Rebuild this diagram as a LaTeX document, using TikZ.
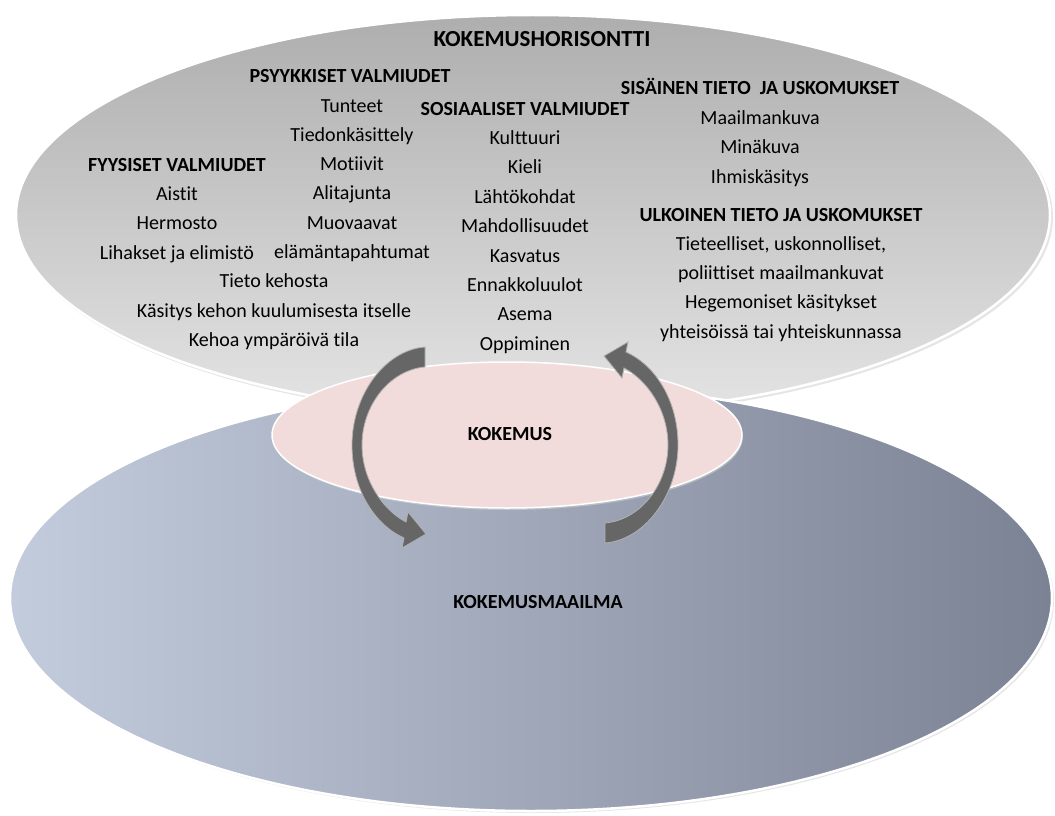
\documentclass[tikz,border=0pt]{standalone}
\usepackage{fontspec}
\setmainfont{Carlito}[Ligatures=NoCommon]
\usepackage{tikz}
\usetikzlibrary{arrows.meta,calc,positioning,shapes.geometric,shadings}
\definecolor{horizontop}{HTML}{AEAEAE}
\definecolor{horizonbottom}{HTML}{E4E4E4}
\definecolor{worldleft}{HTML}{C3CCDC}
\definecolor{worldright}{HTML}{7B8294}
\definecolor{experiencepink}{HTML}{F2DCDB}
\definecolor{arrowgray}{HTML}{666666}

\begin{document}
\begin{tikzpicture}[x=1pt,y=-1pt,
    item/.style={font=\fontsize{20}{22}\selectfont,text height=14pt,text depth=4pt,inner sep=0pt},
    head/.style={item,font=\fontsize{20}{22}\selectfont\bfseries},
    blockarrow/.style={fill=arrowgray,draw=black!30,line width=0.8pt}]
  \useasboundingbox (0,0) rectangle (1055,816);
  % kokemushorisontti
  \fill[black!20,opacity=0.5] (535,217) ellipse [x radius=518,y radius=201];
  \shade[top color=horizontop,bottom color=horizonbottom,draw=white,line width=2.5pt]
    (533,215) ellipse [x radius=517,y radius=200];
  % kokemusmaailma
  \fill[black!20,opacity=0.5] (533,600) ellipse [x radius=521,y radius=213];
  \shade[left color=worldleft,right color=worldright,draw=white,line width=2.5pt]
    (531,598) ellipse [x radius=521,y radius=213];
  % kokemus
  \fill[black!15,opacity=0.5] (508,437) ellipse [x radius=235,y radius=73];
  \fill[experiencepink,draw=white,line width=1.5pt] (507,435) ellipse [x radius=235,y radius=73];
  % kiertonuolet
  \foreach \r in {0,180}{
  \filldraw[blockarrow,rotate around={\r:(515,445)}] (425,347)
    .. controls (385,350) and (352,395) .. (352,445)
    .. controls (352,490) and (375,525) .. (404,538)
    -- (402,548) -- (426,534) -- (408,512) -- (406,522)
    .. controls (383,510) and (362,480) .. (362,445)
    .. controls (362,405) and (390,370) .. (425,367) -- cycle;}
  \node[head,font=\fontsize{23}{25}\selectfont\bfseries] (horizon) at (542,42) {KOKEMUSHORISONTTI};
  \node[head] (kokemus) at (510,435) {KOKEMUS};
  \node[head] (maailma) at (538,603) {KOKEMUSMAAILMA};
  % fyysiset
  \node[head] (fyy) at (177,166) {FYYSISET VALMIUDET};
  \foreach \t [count=\i] in {Aistit,Hermosto,Lihakset ja elimistö}
    \node[item] (fyy\i) at (177,{166+29.4*\i}) {\t};
  \foreach \t [count=\i] in {Tieto kehosta,Käsitys kehon kuulumisesta itselle,Kehoa ympäröivä tila}
    \node[item] (keho\i) at (274,{253.5+29.4*\i}) {\t};
  % psyykkiset
  \node[head] (psy) at (350,78) {PSYYKKISET VALMIUDET};
  \foreach \t [count=\i] in {Tunteet,Tiedonkäsittely,Motiivit,Alitajunta,Muovaavat,elämäntapahtumat}
    \node[item] (psy\i) at (352,{78+29.2*\i}) {\t};
  % sosiaaliset
  \node[head] (sos) at (525,110) {SOSIAALISET VALMIUDET};
  \foreach \t [count=\i] in {Kulttuuri,Kieli,Lähtökohdat,Mahdollisuudet,Kasvatus,Ennakkoluulot,Asema,Oppiminen}
    \node[item] (sos\i) at (525,{110+29.4*\i}) {\t};
  % sisäinen tieto
  \node[head] (sis) at (760,90) {SISÄINEN TIETO\ \ JA USKOMUKSET};
  \foreach \t [count=\i] in {Maailmankuva,Minäkuva,Ihmiskäsitys}
    \node[item] (sis\i) at (760,{90+29.4*\i}) {\t};
  % ulkoinen tieto
  \node[head] (ulk) at (781,216) {ULKOINEN TIETO JA USKOMUKSET};
  \foreach \t [count=\i] in {{Tieteelliset, uskonnolliset,},poliittiset maailmankuvat,Hegemoniset käsitykset,yhteisöissä tai yhteiskunnassa}
    \node[item] (ulk\i) at (781,{216+29.3*\i}) {\t};
\end{tikzpicture}
\end{document}
